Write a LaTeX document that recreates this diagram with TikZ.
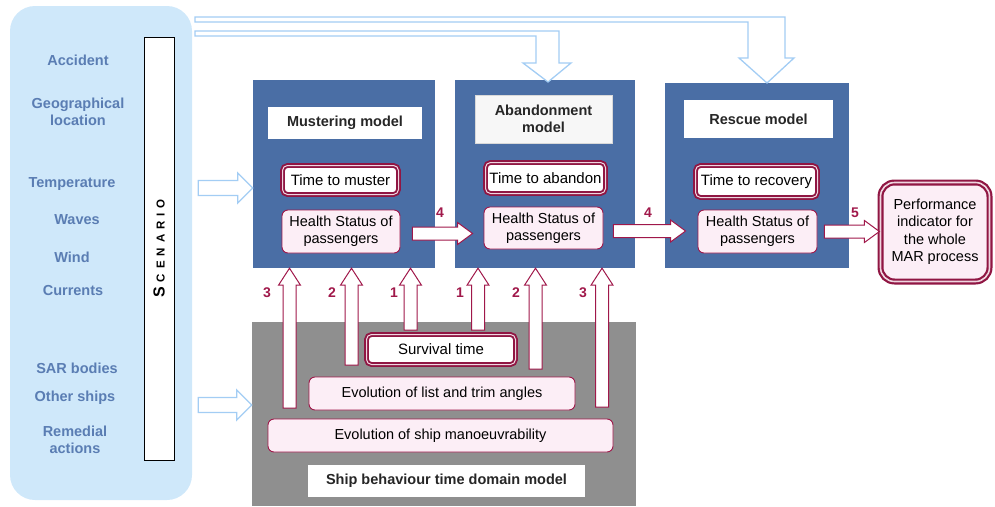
\documentclass[tikz,border=0pt]{standalone}
\usepackage{fontspec}
\setmainfont{Liberation Sans}
\usetikzlibrary{calc}

\definecolor{panelblue}{HTML}{CFE8FA}
\definecolor{txtblue}{HTML}{5A7DB3}
\definecolor{modelblue}{HTML}{4A6EA5}
\definecolor{crim}{HTML}{A0184A}
\definecolor{pinkfill}{HTML}{FCEEF6}
\definecolor{shipgray}{HTML}{8F8F8F}
\definecolor{arrowblue}{HTML}{A3CDF4}

% block arrow: [style]{from}{to}{half shaft}{half head}{head length}
\newcommand{\blkarrow}[6][]{%
  \draw[#1] let \p1=(#2), \p2=(#3),
      \n1={atan2(\y2-\y1,\x2-\x1)}, \n2={veclen(\x2-\x1,\y2-\y1)} in
    [shift={(\p1)}, rotate=\n1]
    (0,-#4) -- (\n2-#6,-#4) -- (\n2-#6,-#5) -- (\n2,0)
    -- (\n2-#6,#5) -- (\n2-#6,#4) -- (0,#4) -- cycle;}

\begin{document}
\begin{tikzpicture}[x=1pt, y=-1pt,
    every node/.style={font=\fontsize{14.5}{17}\selectfont, align=center, inner sep=0pt},
    scenlabel/.style={text=txtblue, font=\fontsize{14.5}{17}\selectfont\bfseries},
    modelbox/.style={fill=modelblue},
    titlebox/.style={fill=white, text=black!85, font=\fontsize{14.5}{17}\selectfont\bfseries},
    timebox/.style={draw=crim!90!black, line width=1.9pt, double=pinkfill!60!crim!40, double distance=1pt,
      fill=white, rounded corners=5pt, font=\fontsize{15}{17}\selectfont},
    hsbox/.style={draw=crim, line width=0.9pt, fill=pinkfill, rounded corners=6pt},
    numlabel/.style={text=crim, font=\fontsize{14}{16}\selectfont\bfseries},
    redarrow/.style={draw=crim, fill=white, line width=1pt, line join=miter},
    bluearrow/.style={draw=arrowblue, fill=white, line width=1.3pt}]
  \useasboundingbox (0,0) rectangle (995,506);

  % Scenario panel
  \node[fill=panelblue, rounded corners=25pt, minimum width=182pt, minimum height=494pt] (scen) at (101,253) {};
  \node[draw=black, line width=0.6pt, fill=white, minimum width=30pt, minimum height=423pt] (strip) at (159,248.5) {};
  \node[rotate=90] (scentxt) at (strip.center)
    {\bfseries{\fontsize{16}{16}\selectfont S}\hspace{5pt}{\fontsize{11.5}{12}\selectfont C\hspace{5pt}E\hspace{5pt}N\hspace{5pt}A\hspace{5pt}R\hspace{5pt}I\hspace{5pt}O}};

  \node[scenlabel] (acc) at (78,60) {Accident};
  \node[scenlabel] (geo) at (78,111.5) {Geographical\\location};
  \node[scenlabel] (temp) at (72,184) {Temperature};
  \node[scenlabel] (waves) at (77,220) {Waves};
  \node[scenlabel] (wind) at (72,257) {Wind};
  \node[scenlabel] (curr) at (73,291) {Currents};
  \node[scenlabel] (sar) at (77,368) {SAR bodies};
  \node[scenlabel] (other) at (75,398) {Other ships};
  \node[scenlabel] (remed) at (75,440) {Remedial\\actions};

  % Model boxes
  \node[modelbox, minimum width=182pt, minimum height=188pt] (mbox) at (344,174) {};
  \node[modelbox, minimum width=180pt, minimum height=188pt] (abox) at (545,174) {};
  \node[modelbox, minimum width=184pt, minimum height=185pt] (rbox) at (756.5,175.5) {};

  \node[titlebox, minimum width=154pt, minimum height=32pt] (mtitle) at (345,123) {Mustering model};
  \node[titlebox, draw=black!15, fill=black!3, minimum width=137pt, minimum height=48pt] (atitle) at (543.5,119) {Abandonment\\model};
  \node[titlebox, minimum width=149pt, minimum height=38pt] (rtitle) at (758.5,119) {Rescue model};

  \node[timebox, minimum width=116pt, minimum height=29pt] (mtime) at (340.5,180) {Time to muster};
  \node[timebox, minimum width=120pt, minimum height=31pt] (atime) at (545.5,178) {Time to abandon};
  \node[timebox, minimum width=122pt, minimum height=32pt] (rtime) at (756.5,181.5) {Time to recovery};

  \node[hsbox, minimum width=118pt, minimum height=43pt] (mhs) at (341,231.5) {Health Status of\\passengers};
  \node[hsbox, minimum width=119pt, minimum height=42pt] (ahs) at (543.5,228) {Health Status of\\passengers};
  \node[hsbox, minimum width=119pt, minimum height=43pt] (rhs) at (757.5,231.5) {Health Status of\\passengers};

  \node[timebox, line width=2.2pt, double distance=1.6pt, rounded corners=14pt, fill=pinkfill,
    font=\fontsize{14.5}{17.5}\selectfont,
    minimum width=109pt, minimum height=99pt] (perf) at (935,232) {Performance\\indicator for\\the whole\\MAR process};

  % Ship behaviour model
  \node[fill=shipgray, minimum width=384pt, minimum height=184pt] (ship) at (444,414) {};
  \node[timebox, minimum width=149pt, minimum height=30pt] (surv) at (441,349.5) {Survival time};
  \node[hsbox, minimum width=266pt, minimum height=33pt] (trim) at (442,393.5) {Evolution of list and trim angles};
  \node[hsbox, minimum width=345pt, minimum height=33pt] (manv) at (440.5,435.5) {Evolution of ship manoeuvrability};
  \node[titlebox, minimum width=277pt, minimum height=32pt] (shiptitle) at (446.5,481) {Ship behaviour time domain model};

  % Scenario inputs
  \blkarrow[bluearrow]{$(scen.east |- temp)+(6,4)$}{$(mbox.west |- temp)+(0,4)$}{7.5}{15}{15}
  \blkarrow[bluearrow]{$(scen.east |- other)+(6,7)$}{$(ship.west |- other)+(0,7)$}{7.5}{15}{15}
  \draw[bluearrow] (195,31) -- (559,31) -- (559,63) -- (571,63) -- (548,82) -- (523,63)
    -- (536,63) -- (536,36) -- (195,36) -- cycle;
  \draw[bluearrow] (195,17) -- (785,17) -- (785,58) -- (794,58) -- (767,83) -- (739,58)
    -- (748,58) -- (748,22) -- (195,22) -- cycle;

  % Passenger status chain
  \coordinate (s4a) at ($(mhs.east)+(12,2)$);
  \coordinate (s4b) at ($(ahs.east)+(10,3)$);
  \coordinate (s5) at ($(rhs.east)+(7,0)$);
  \blkarrow[redarrow]{s4a}{$(s4a -| ahs.west)+(-11,0)$}{6.5}{11}{15}
  \blkarrow[redarrow]{s4b}{$(s4b -| rhs.west)+(-12,0)$}{6.5}{11}{15}
  \blkarrow[redarrow]{s5}{s5 -| perf.west}{6.5}{11}{15}
  \node[numlabel] (n4a) at (440,213) {4};
  \node[numlabel] (n4b) at (648,213) {4};
  \node[numlabel] (n5) at (855,213) {5};

  % Ship model outputs
  \coordinate (u3l) at (289.5,408);
  \coordinate (u2l) at (351.5,365);
  \coordinate (u1l) at (410.5,330);
  \coordinate (u1r) at (478,330);
  \coordinate (u2r) at (535.5,369);
  \coordinate (u3r) at (602,407);
  \blkarrow[redarrow]{u3l}{u3l |- mbox.south}{6.5}{11}{17}
  \blkarrow[redarrow]{u2l}{u2l |- mbox.south}{6.5}{11}{17}
  \blkarrow[redarrow]{u1l}{u1l |- mbox.south}{6.5}{11}{17}
  \blkarrow[redarrow]{u1r}{u1r |- abox.south}{6.5}{11}{17}
  \blkarrow[redarrow]{u2r}{u2r |- abox.south}{6.5}{11}{17}
  \blkarrow[redarrow]{u3r}{u3r |- abox.south}{6.5}{11}{17}
  \node[numlabel] (l3l) at (267,293) {3};
  \node[numlabel] (l2l) at (332,293) {2};
  \node[numlabel] (l1l) at (394,293) {1};
  \node[numlabel] (l1r) at (460,293) {1};
  \node[numlabel] (l2r) at (516,293) {2};
  \node[numlabel] (l3r) at (583,293) {3};
\end{tikzpicture}
\end{document}
